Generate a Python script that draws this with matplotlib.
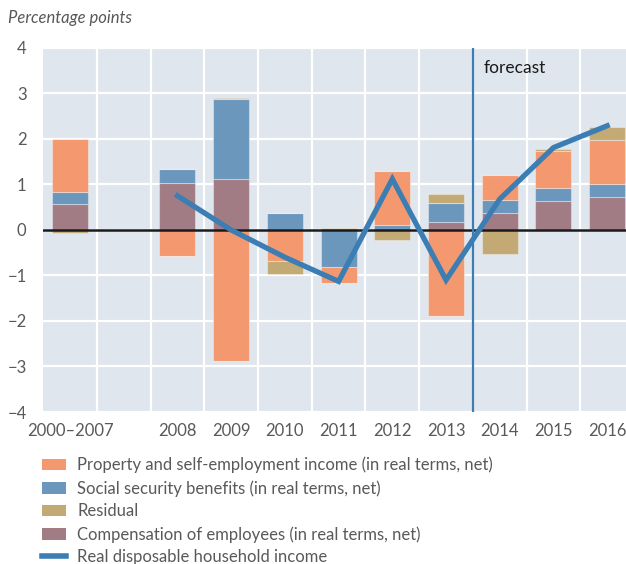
import numpy as np
import matplotlib
matplotlib.use('Agg')
import matplotlib.pyplot as plt
from matplotlib.patches import Patch
from matplotlib.lines import Line2D

plt.rcParams['font.family'] = ['Lato', 'DejaVu Sans']

# data (percentage points)
years = ['2000\u20132007', '2008', '2009', '2010', '2011', '2012', '2013', '2014', '2015', '2016']
compensation = [0.56, 1.03, 1.13, 0.0, 0.0, 0.0, 0.18, 0.37, 0.64, 0.72]
social_security = [0.28, 0.30, 1.74, 0.38, -0.81, 0.12, 0.42, 0.29, 0.28, 0.30]
property_income = [1.15, -0.57, -2.89, -0.68, -0.35, 1.18, -1.88, 0.54, 0.82, 0.96]
residual = [-0.06, 0.0, 0.04, -0.28, 0.04, -0.23, 0.18, -0.53, 0.03, 0.28]
rdhi = [np.nan, 0.75, 0.0, -0.60, -1.13, 1.12, -1.10, 0.68, 1.81, 2.29]

# 2000-2007 sits apart from the yearly bars
xpos = np.array([0, 2, 3, 4, 5, 6, 7, 8, 9, 10])

c_prop = '#F4996F'
c_ss = '#6C97BD'
c_res = '#C3AA75'
c_comp = '#A17C84'
c_line = '#3C7EB4'
bg = '#DFE6EE'
txt = '#595959'

fig = plt.figure(figsize=(6.26, 5.64), dpi=100)
ax = fig.add_axes([0.069, 0.2695, 0.931, 0.6455])
ax.set_facecolor(bg)

# diverging stacks: positives up from zero, negatives down
series = [(compensation, c_comp), (social_security, c_ss), (property_income, c_prop), (residual, c_res)]
pos_base = np.zeros(len(years))
neg_base = np.zeros(len(years))
w = 0.67
for vals, col in series:
    vals = np.array(vals)
    pos = np.where(vals > 0, vals, 0)
    neg = np.where(vals < 0, vals, 0)
    ax.bar(xpos, pos, w, bottom=pos_base, color=col, edgecolor=(1, 1, 1, 0.35), linewidth=0.8, zorder=2)
    ax.bar(xpos, neg, w, bottom=neg_base, color=col, edgecolor=(1, 1, 1, 0.35), linewidth=0.8, zorder=2)
    pos_base += pos
    neg_base += neg

ax.axhline(0, color='#1a1a1a', lw=1.8, zorder=3)
ax.plot(xpos, rdhi, color=c_line, lw=3.8, zorder=4, solid_joinstyle='miter')

# forecast divider
ax.axvline(7.5, color=c_line, lw=1.6, zorder=3)
ax.text(7.7, 3.55, 'forecast', color='#1a1a1a', fontsize=12.5, va='center', ha='left', zorder=5)

ax.set_xlim(-0.5, 10.35)
ax.set_ylim(-4, 4)
ax.set_yticks(np.arange(-4, 5, 1))
ax.set_yticklabels([('\u2212%d' % abs(v)) if v < 0 else '%d' % v for v in range(-4, 5)])
ax.set_xticks(xpos)
ax.set_xticklabels(years)
ax.set_xticks(np.arange(0.5, 10, 1), minor=True)
ax.grid(True, which='minor', axis='x', color='white', lw=1.6, zorder=1)
ax.grid(True, which='major', axis='y', color='white', lw=1.6, zorder=1)
ax.tick_params(axis='both', which='both', length=0, colors=txt, labelsize=12)
ax.tick_params(axis='y', pad=12)
ax.tick_params(axis='x', pad=8)
ax.set_axisbelow(True)
for s in ax.spines.values():
    s.set_visible(False)

fig.text(0.013, 0.968, 'Percentage points', style='italic', color=txt, fontsize=12, va='center')

handles = [
    Patch(facecolor=c_prop, label='Property and self-employment income (in real terms, net)'),
    Patch(facecolor=c_ss, label='Social security benefits (in real terms, net)'),
    Patch(facecolor=c_res, label='Residual'),
    Patch(facecolor=c_comp, label='Compensation of employees (in real terms, net)'),
    Line2D([0], [0], color=c_line, lw=4, label='Real disposable household income'),
]
leg = fig.legend(handles=handles, loc='upper left', bbox_to_anchor=(0.067, 0.19), frameon=False,
                 fontsize=12, labelcolor=txt, handlelength=1.45, handleheight=0.7,
                 handletextpad=0.68, labelspacing=0.4, borderaxespad=0, borderpad=0)

fig.savefig('out.png', dpi=100)
